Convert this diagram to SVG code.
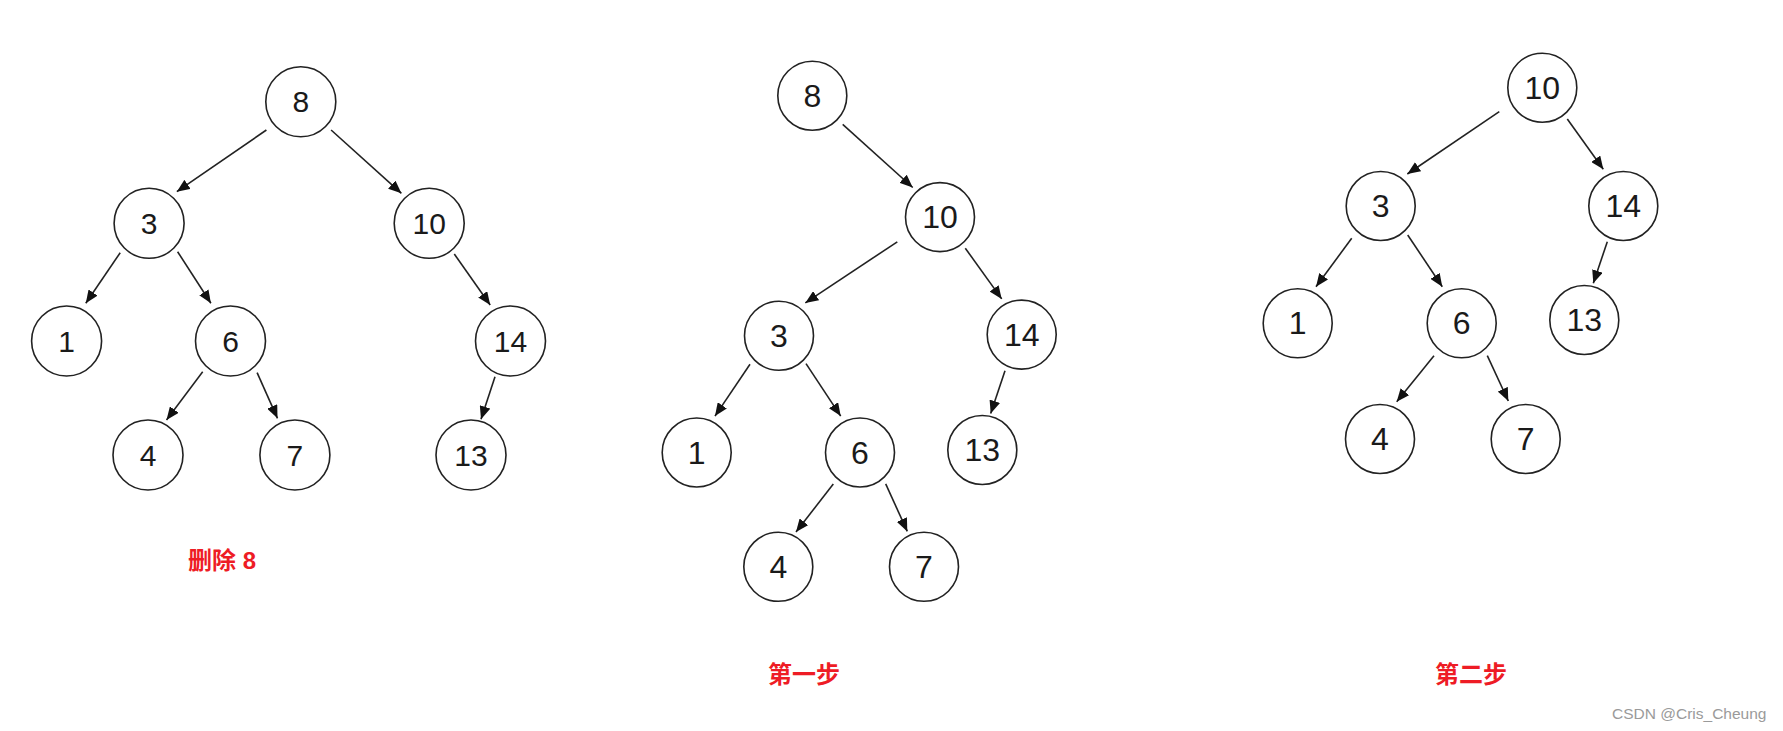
<svg xmlns="http://www.w3.org/2000/svg" width="1783" height="731" viewBox="0 0 1783 731">
<defs>
<style>
.n{fill:#fff;stroke:#222;stroke-width:1.6}
.t{font-family:"Liberation Sans",Arial,sans-serif;font-size:30px;fill:#1a1a1a;text-anchor:middle;dominant-baseline:central}
.t2{font-size:32px}
.e{stroke:#222;stroke-width:1.6;fill:none;marker-end:url(#ah)}
.lbl{font-family:"Liberation Sans","Noto Sans CJK SC",sans-serif;font-weight:bold;font-size:24px;fill:#ee1c25}
.wm{font-family:"Liberation Sans",Arial,sans-serif;font-size:15.5px;fill:#9a9a9a}
</style>
<marker id="ah" markerUnits="userSpaceOnUse" markerWidth="13" markerHeight="11" refX="13" refY="5.5" orient="auto">
<path d="M0,0 L13,5.5 L0,11 z" fill="#111"/>
</marker>
</defs>
<rect width="1783" height="731" fill="#fff"/>
<g id="connectors">
<line class="e" x1="266.4" y1="130" x2="176.8" y2="191.7"/>
<line class="e" x1="331.1" y1="130" x2="401.4" y2="193.3"/>
<line class="e" x1="120.2" y1="252.7" x2="85.8" y2="303.3"/>
<line class="e" x1="177.6" y1="251.7" x2="210.9" y2="303.3"/>
<line class="e" x1="454.3" y1="254" x2="490.2" y2="305"/>
<line class="e" x1="202.7" y1="371.7" x2="166.5" y2="420"/>
<line class="e" x1="257.1" y1="372.7" x2="277.5" y2="418.3"/>
<line class="e" x1="495" y1="376.7" x2="481" y2="419.3"/>
<line class="e" x1="842.7" y1="124.3" x2="912.7" y2="187.5"/>
<line class="e" x1="897.3" y1="241.8" x2="805.3" y2="302.9"/>
<line class="e" x1="965.3" y1="248.2" x2="1001.7" y2="298.9"/>
<line class="e" x1="750" y1="364.3" x2="715" y2="416.1"/>
<line class="e" x1="806" y1="363.6" x2="840.7" y2="416.1"/>
<line class="e" x1="1005" y1="370.7" x2="990.7" y2="413.6"/>
<line class="e" x1="833.3" y1="483.9" x2="796" y2="532.1"/>
<line class="e" x1="885.7" y1="483.9" x2="907.3" y2="531.4"/>
<line class="e" x1="1499.3" y1="111.7" x2="1407.3" y2="174"/>
<line class="e" x1="1567.3" y1="119" x2="1603.3" y2="169.3"/>
<line class="e" x1="1351.7" y1="238.3" x2="1316" y2="286.7"/>
<line class="e" x1="1407.7" y1="235" x2="1442.3" y2="286.7"/>
<line class="e" x1="1607.3" y1="241.7" x2="1593.3" y2="283.3"/>
<line class="e" x1="1434" y1="355.7" x2="1396.7" y2="401.7"/>
<line class="e" x1="1487.3" y1="355.7" x2="1508.3" y2="401"/>
</g>
<g id="a8"><circle class="n" cx="300.8" cy="101.7" r="35"/><text class="t" x="300.8" y="101.7">8</text></g>
<g id="a3"><circle class="n" cx="149.1" cy="223.3" r="35"/><text class="t" x="149.1" y="223.3">3</text></g>
<g id="a10"><circle class="n" cx="429.2" cy="223.3" r="35"/><text class="t" x="429.2" y="223.3">10</text></g>
<g id="a1"><circle class="n" cx="66.6" cy="341" r="35"/><text class="t" x="66.6" y="341">1</text></g>
<g id="a6"><circle class="n" cx="230.5" cy="341" r="35"/><text class="t" x="230.5" y="341">6</text></g>
<g id="a14"><circle class="n" cx="510.5" cy="341" r="35"/><text class="t" x="510.5" y="341">14</text></g>
<g id="a4"><circle class="n" cx="148" cy="455" r="35"/><text class="t" x="148" y="455">4</text></g>
<g id="a7"><circle class="n" cx="294.9" cy="455" r="35"/><text class="t" x="294.9" y="455">7</text></g>
<g id="a13"><circle class="n" cx="471" cy="455" r="35"/><text class="t" x="471" y="455">13</text></g>
<g id="b8"><circle class="n" cx="812.3" cy="95.7" r="34.5"/><text class="t t2" x="812.3" y="95.7">8</text></g>
<g id="b10"><circle class="n" cx="940" cy="217.1" r="34.5"/><text class="t t2" x="940" y="217.1">10</text></g>
<g id="b3"><circle class="n" cx="779" cy="335.7" r="34.5"/><text class="t t2" x="779" y="335.7">3</text></g>
<g id="b14"><circle class="n" cx="1021.7" cy="334.6" r="34.5"/><text class="t t2" x="1021.7" y="334.6">14</text></g>
<g id="b1"><circle class="n" cx="696.7" cy="452.5" r="34.5"/><text class="t t2" x="696.7" y="452.5">1</text></g>
<g id="b6"><circle class="n" cx="860" cy="452.5" r="34.5"/><text class="t t2" x="860" y="452.5">6</text></g>
<g id="b13"><circle class="n" cx="982.3" cy="450" r="34.5"/><text class="t t2" x="982.3" y="450">13</text></g>
<g id="b4"><circle class="n" cx="778.3" cy="566.8" r="34.5"/><text class="t t2" x="778.3" y="566.8">4</text></g>
<g id="b7"><circle class="n" cx="924" cy="566.8" r="34.5"/><text class="t t2" x="924" y="566.8">7</text></g>
<g id="c10"><circle class="n" cx="1542.3" cy="87.7" r="34.5"/><text class="t t2" x="1542.3" y="87.7">10</text></g>
<g id="c3"><circle class="n" cx="1380.7" cy="206" r="34.5"/><text class="t t2" x="1380.7" y="206">3</text></g>
<g id="c14"><circle class="n" cx="1623.3" cy="206" r="34.5"/><text class="t t2" x="1623.3" y="206">14</text></g>
<g id="c1"><circle class="n" cx="1297.7" cy="323.3" r="34.5"/><text class="t t2" x="1297.7" y="323.3">1</text></g>
<g id="c6"><circle class="n" cx="1461.7" cy="323.3" r="34.5"/><text class="t t2" x="1461.7" y="323.3">6</text></g>
<g id="c13"><circle class="n" cx="1584.3" cy="320" r="34.5"/><text class="t t2" x="1584.3" y="320">13</text></g>
<g id="c4"><circle class="n" cx="1380" cy="439" r="34.5"/><text class="t t2" x="1380" y="439">4</text></g>
<g id="c7"><circle class="n" cx="1525.7" cy="439" r="34.5"/><text class="t t2" x="1525.7" y="439">7</text></g>
<g id="labels">
<text class="lbl" x="188" y="569">删除 8</text>
<text class="lbl" x="768" y="683">第一步</text>
<text class="lbl" x="1435" y="683">第二步</text>
<text class="wm" x="1612" y="719">CSDN @Cris_Cheung</text>
</g>
</svg>
